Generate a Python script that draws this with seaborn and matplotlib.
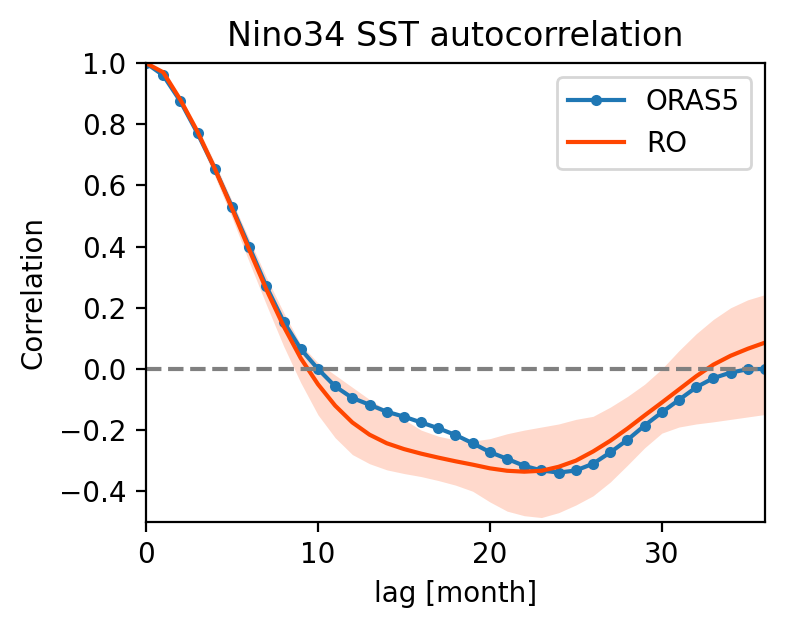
import matplotlib
matplotlib.use("Agg")
import matplotlib.pyplot as plt
import numpy as np
import pandas as pd
import seaborn as sns

# lag in months
lags = np.arange(0, 37)

# ORAS5 autocorrelation
oras5 = [1.0, 0.96, 0.875, 0.77, 0.655, 0.53, 0.40, 0.27, 0.155, 0.065,
         0.0, -0.057, -0.095, -0.117, -0.14, -0.156, -0.175, -0.194, -0.216, -0.243,
         -0.272, -0.294, -0.317, -0.332, -0.339, -0.332, -0.31, -0.273, -0.232, -0.185,
         -0.142, -0.101, -0.06, -0.03, -0.012, -0.001, 0.0]

# RO ensemble mean and spread
ro = [1.0, 0.97, 0.88, 0.775, 0.655, 0.525, 0.39, 0.26, 0.14, 0.035,
      -0.05, -0.12, -0.175, -0.215, -0.243, -0.262, -0.277, -0.29, -0.302, -0.313,
      -0.325, -0.333, -0.336, -0.333, -0.32, -0.30, -0.27, -0.235, -0.195, -0.152,
      -0.11, -0.067, -0.024, 0.014, 0.043, 0.066, 0.086]
ro_low = [1.0, 0.96, 0.865, 0.755, 0.63, 0.495, 0.35, 0.21, 0.075, -0.045,
          -0.15, -0.225, -0.28, -0.31, -0.33, -0.342, -0.352, -0.365, -0.38, -0.40,
          -0.435, -0.465, -0.48, -0.486, -0.47, -0.445, -0.415, -0.37, -0.315, -0.258,
          -0.21, -0.19, -0.18, -0.173, -0.165, -0.157, -0.149]
ro_high = [1.0, 0.975, 0.89, 0.79, 0.675, 0.55, 0.425, 0.30, 0.185, 0.08,
           0.02, -0.02, -0.06, -0.10, -0.135, -0.165, -0.20, -0.22, -0.232, -0.236,
           -0.228, -0.212, -0.20, -0.19, -0.18, -0.165, -0.155, -0.125, -0.09, -0.05,
           0.0, 0.06, 0.115, 0.162, 0.20, 0.226, 0.243]

df = pd.DataFrame({"lag": lags, "ORAS5": oras5, "RO": ro,
                   "low": ro_low, "high": ro_high})

fig = plt.figure(figsize=(3.925, 3.155), dpi=200)
ax = fig.add_axes([0.186, 0.173, 0.7885, 0.727])

ax.fill_between(df["lag"], df["low"], df["high"], color="orangered",
                alpha=0.2, linewidth=0)
sns.lineplot(data=df, x="lag", y="ORAS5", ax=ax, color="tab:blue",
             marker="o", markersize=4, markeredgewidth=0, lw=1.5, label="ORAS5")
sns.lineplot(data=df, x="lag", y="RO", ax=ax, color="orangered",
             lw=1.5, label="RO")
ax.axhline(0, color="gray", ls="--", lw=1.5)

ax.set_xlim(0, 36)
ax.set_ylim(-0.5, 1.0)
ax.set_xlabel("lag [month]")
ax.set_ylabel("Correlation")
ax.set_title("Nino34 SST autocorrelation")
ax.legend(loc="upper right")

fig.savefig("out.png", dpi=200)
